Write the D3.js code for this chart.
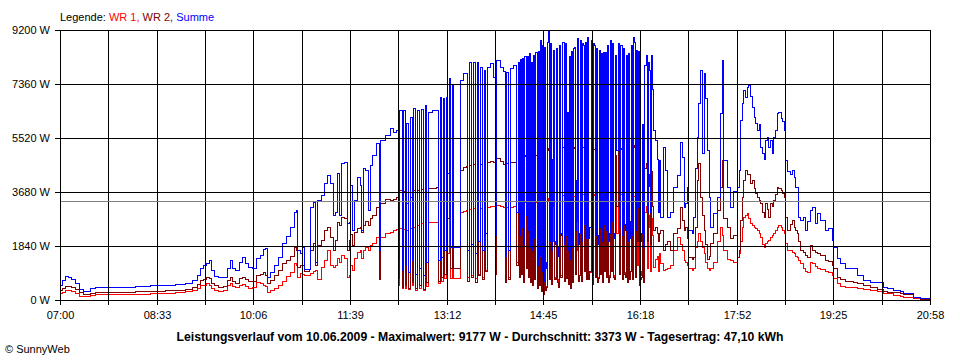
<!DOCTYPE html>
<html><head><meta charset="utf-8">
<script src="https://cdn.jsdelivr.net/npm/d3@7"></script>
<style>html,body{margin:0;padding:0;background:#fff}svg{display:block}</style>
</head><body>
<svg id="chart" width="960" height="360"></svg>
<script>
// ---------- DATA ----------
const startTime = "07:00";
const minutesAfterStart = [
  0,2,5,8,11,14,18,22,26,29,
  34,43,58,72,87,101,111,120,127,132,
  135,138,141,144,145,148,152,157,161,164,
  166,169,172,175,178,181,185,189,193,196,
  197,199,202,206,210,214,218,222,225,227,
  228,231,233,235,240,241,244,246,248,251,
  254,257,260,263,265,267,269,271,274,276,
  278,279,281,283,286,289,290,292,294,297,299,301,
  304,307,308,313,318,321,324,326,327,329,
  330,332,333,335,337,339,340,342,344,346,
  348,350,352,353,354,358,362,364,366,367,
  369,370,372,373,375,376,378,379,384,385,
  388,391,392,394,396,398,400,402,403,405,
  406,408,409,411,414,417,419,420,424,427,
  429,430,432,433,436,439,441,
  442,443,444,445,446,447,448,449,450,451,
  452,453,454,455,456,457,458,459,460,461,
  462,463,464,465,466,467,468,469,470,471,
  472,473,474,475,476,477,478,479,480,481,
  482,483,484,485,486,487,488,489,490,491,
  492,493,494,495,496,497,498,499,500,501,
  502,503,504,505,506,507,508,509,510,511,
  512,513,514,515,516,517,518,519,520,521,
  522,523,524,525,526,527,528,529,530,531,
  532,533,534,535,536,537,538,539,540,541,
  542,543,544,545,546,547,548,549,550,551,
  552,553,554,555,556,557,558,559,560,561,
  562,563,564,565,566,567,568,569,570,571,
  573,575,576,577,
  578,581,583,585,588,590,594,597,599,601,
  602,604,605,609,610,612,614,615,616,618,
  620,621,623,625,626,629,633,636,638,639,
  642,645,648,652,654,655,657,658,660,662,
  663,665,667,668,669,671,673,674,676,678,
  679,681,682,684,686,687,689,691,692,694,
  695,697,698,700,703,705,707,708,710,711,
  713,716,718,720,722,724,727,729,732,737,
  740,744,745,748,751,756,764,768,773,780,
  787,793,797,802,809,812,822,828,831,838
];
const summe = [
  510,680,820,780,720,580,370,310,310,410,
  440,440,440,480,510,510,550,580,680,850,
  1090,1190,1260,1360,1020,820,780,780,1090,1360,
  1090,1020,1290,1460,1260,1120,1090,1430,1530,1740,
  1770,780,950,1190,1460,1940,2180,2490,3000,3070,
  1700,1600,1800,1050,1050,3170,3340,1290,3410,3580,
  3990,4260,4000,2900,3000,4330,2900,4660,4700,2630,
  2660,3920,2390,3410,4190,3920,2390,4500,4430,3070,4600,4940,
  5350,1700,5450,5620,5860,5720,5790,1430,6470,1020,
  6470,1190,6030,950,6240,1360,6540,880,6470,1100,
  6500,850,6640,1290,6410,6470,6470,1360,6920,1460,
  6890,1700,6920,4330,7560,1800,7330,1800,1800,7500,
  7730,7730,1700,8110,1900,8110,1600,8110,2000,7950,
  1700,7840,2300,7950,8070,7600,2200,8180,7950,7800,
  1500,7770,1700,7900,8010,3000,8110,
  2200,8200,2500,8230,1900,8330,8300,2900,8330,2400,
  8400,1800,8110,1700,8350,2100,8460,1200,8500,1500,
  8860,1000,8700,650,8630,1100,1300,8800,9170,2000,
  8750,1700,4800,8520,2000,1900,8570,1800,1500,8700,
  2300,2200,8800,1900,8750,2200,6400,1700,8300,1400,
  8500,1800,8600,8630,2400,4100,8920,1900,2300,8860,
  2000,8750,8690,2600,8800,2100,8970,2100,2500,8860,
  1800,8750,8690,2200,8600,1900,2200,8520,2500,8400,
  2000,8460,2600,8460,2400,8700,2000,2300,8860,2700,
  8750,2300,2100,8350,5100,8750,2500,8700,8690,2200,
  8600,2600,2400,8350,2000,8400,2100,2700,8700,2200,
  8970,8800,2400,8520,3180,8500,1600,2000,2300,6000,
  1800,8000,8350,3000,8100,7840,3000,8350,7200,5790,
  5450,4800,3000,4770,
  2840,5220,4430,2840,3000,3860,4250,5390,4880,3180,
  3300,3860,2380,2300,2840,4500,5560,6710,7840,5000,
  7730,6900,5110,3520,2500,2950,3520,6360,8180,4770,
  3860,3180,3700,3860,4430,6130,6700,7150,6930,7270,
  7330,6950,6590,6240,6020,5800,6000,5220,5000,4800,
  5450,5560,5220,5450,5000,5560,5790,6360,6420,6200,
  6100,5800,4770,4400,4300,4430,4200,3860,3860,2840,
  2730,2840,2380,2700,3070,3180,2620,2950,2730,2380,
  2450,2040,1820,1420,1250,1080,1080,850,680,620,
  620,450,420,340,290,230,110,80,60,0
];
const wr2 = [
  340,410,480,480,440,370,270,200,200,240,
  270,270,270,310,310,340,340,370,440,550,
  680,720,780,750,580,510,440,480,680,780,
  650,580,750,780,720,650,650,850,890,950,
  850,580,680,850,1020,1260,1360,1500,1800,1700,
  1120,1190,1190,1000,1050,1700,1940,1190,1870,2040,
  2390,2490,2150,1700,2040,2660,2560,2830,2800,1700,
  2040,2250,1870,2320,2460,2490,2320,2560,2700,2560,2800,2900,
  3170,700,3300,3440,3410,3440,3510,750,3750,450,
  3700,500,3300,420,3510,600,3750,400,3750,500,
  3780,380,3820,600,3800,3830,3850,650,4020,780,
  4090,900,4190,2800,4430,1090,4430,1090,1090,4430,
  4540,4560,650,4600,800,4630,600,4650,850,4650,
  700,4650,1000,4700,4750,4700,900,4840,4750,4650,
  600,4680,700,4700,4700,1200,4700,
  800,4800,900,4850,600,4940,4900,1100,4940,800,
  4900,600,4830,500,4880,700,4950,400,4950,500,
  5000,300,5000,200,5050,350,450,5100,5170,700,
  5000,550,3200,5000,700,700,5100,600,450,5150,
  800,800,5220,650,5200,750,4300,550,5100,400,
  5150,600,5180,5200,900,2700,5220,650,850,5220,
  650,5200,5200,1000,5170,700,5200,700,1000,5170,
  550,5160,5150,800,5110,600,750,4880,900,4950,
  600,5050,1000,5100,800,5170,600,800,5170,1000,
  5150,800,700,4940,3200,5100,900,5150,5170,700,
  5150,900,800,5000,600,5000,700,1000,5200,700,
  5280,5200,800,5100,2000,4880,500,700,800,3700,
  600,4500,4660,2000,4300,3900,1900,4400,3200,2400,
  2500,2300,2000,2300,
  2390,1700,1900,2000,1700,2270,2450,3180,2730,2380,
  2500,2100,1480,1400,1480,2500,4090,4660,3520,2900,
  2400,1900,1400,1500,1940,2300,3070,3860,4770,2800,
  2500,2100,2200,1480,1700,2730,3500,4090,4430,4300,
  4300,3980,4100,3800,3640,3500,3400,3290,3000,2840,
  3300,3100,2840,3290,3200,3400,3600,3860,3800,3750,
  3640,3500,2840,2390,2600,2730,2500,2400,2270,2000,
  1700,1650,1550,1480,1870,1700,1650,1600,1530,1360,
  1330,1200,1080,800,700,660,630,570,510,450,
  360,320,280,260,230,200,110,50,30,0
];
const wr1 = [
  240,270,340,340,310,240,140,140,140,170,
  200,200,200,200,240,240,270,310,340,410,
  510,510,580,510,410,340,310,340,510,580,
  480,440,510,550,480,410,440,610,580,510,
  480,270,340,410,510,650,820,950,1260,1190,
  780,920,880,850,850,920,990,1020,700,1120,
  1360,1700,1190,1120,1190,1430,1290,1530,1430,780,
  850,1190,1020,1430,1640,1700,1430,1700,1800,1700,1870,1940,
  2150,750,2150,2280,2330,2390,2420,510,2450,400,
  2420,420,2390,370,2450,510,2490,340,2560,400,
  2620,330,2640,480,2660,2660,2660,580,2790,650,
  2800,750,2830,1600,2960,750,2960,750,750,3000,
  3030,3070,780,3100,850,3130,750,3130,900,3150,
  780,3150,1020,3170,3200,3200,950,3240,3200,3170,
  750,3170,780,3170,3200,1300,3240,
  850,3300,1000,3330,700,3350,3340,1100,3350,1000,
  3330,700,3300,680,3290,800,3330,480,3330,600,
  3350,400,3350,300,3400,400,480,3420,3470,750,
  3450,650,2000,3450,800,700,3500,700,550,3550,
  850,850,3580,700,3550,800,2900,750,3520,550,
  3520,650,3540,3550,900,1700,3600,700,850,3600,
  680,3600,3600,1000,3600,750,3620,750,950,3600,
  700,3600,3590,800,3580,700,800,3570,950,3580,
  750,3580,1000,3580,850,3590,700,850,3600,1000,
  3600,850,800,3610,2300,3610,900,3600,3600,800,
  3600,950,850,3590,700,3580,800,1000,3560,800,
  3550,3540,900,3500,1200,3500,650,850,1000,2300,
  700,3000,3200,1100,2900,2500,1000,2800,2200,1140,
  1400,1500,1000,1590,
  1250,1020,1050,1100,1200,1700,2160,1900,1700,1360,
  1300,1200,1100,1020,1100,1820,2000,2270,2000,1800,
  1600,1300,1100,1020,1100,1300,2000,2500,2200,1700,
  1400,1360,1300,1480,1600,2000,2500,2840,2900,2950,
  2800,2610,2550,2500,2450,2390,2300,2160,1900,1820,
  1950,2000,2050,2160,2200,2300,2400,2500,2550,2500,
  2400,2300,1930,1700,1700,1650,1590,1500,1450,1350,
  1250,1100,1000,960,1300,1250,1150,1100,1050,1000,
  960,850,740,570,480,450,430,400,370,340,
  300,250,230,170,130,110,60,30,20,0
];
const yTickValues = [0, 1840, 3680, 5520, 7360, 9200];
const xTickLabels = ["07:00","08:33","10:06","11:39","13:12","14:45","16:18","17:52","19:25","20:58"];
const totalMinutes = 838;          // 07:00 .. 20:58
const averageWatt = 3373;
const legendLabel = "Legende: ";
const seriesNames = ["WR 1", "WR 2", "Summe"];
const seriesColors = ["#ff0000", "#800000", "#0000ff"];
const titleText = "Leistungsverlauf vom 10.06.2009 - Maximalwert: 9177 W - Durchschnitt: 3373 W - Tagesertrag: 47,10 kWh";
const creditText = "\u00A9 SunnyWeb";

// ---------- CHART ----------
const FONT = "'Liberation Sans', Arial, sans-serif";
const svg = d3.select("#chart");
const x = d3.scaleLinear().domain([0, totalMinutes]).range([60, 930]);
const y = d3.scaleLinear().domain([0, 9200]).range([300, 30]);
const xr = x.copy().interpolate(d3.interpolateRound);
const yr = y.copy().interpolate(d3.interpolateRound);

const gridMinutes = d3.range(19).map(i => i * totalMinutes / 18);

// data lines: WR 1, then WR 2, then Summe on top
const series = [
  {name: seriesNames[0], values: wr1, color: seriesColors[0]},
  {name: seriesNames[1], values: wr2, color: seriesColors[1]},
  {name: seriesNames[2], values: summe, color: seriesColors[2]}
];
const line = d3.line()
  .x(d => x(d.m) + 0.5)
  .y(d => y(d.v) + 0.5)
  .curve(d3.curveStepAfter);
const gLines = svg.append("g");
series.forEach(s => {
  const pts = minutesAfterStart.map((m, i) => ({m, v: s.values[i]}));
  gLines.append("path")
    .datum(pts)
    .attr("d", line)
    .attr("fill", "none")
    .attr("stroke", s.color)
    .attr("stroke-width", 1)
    .attr("shape-rendering", "crispEdges");
});

// grid
const gGrid = svg.append("g").attr("shape-rendering", "crispEdges").attr("stroke", "#000").attr("stroke-width", 1);
gGrid.selectAll("line.v").data(gridMinutes).join("line")
  .attr("x1", d => xr(d) + 0.5).attr("x2", d => xr(d) + 0.5)
  .attr("y1", 30).attr("y2", 300);
gGrid.selectAll("line.h").data(yTickValues).join("line").attr("class", "h")
  .attr("x1", 60).attr("x2", 931)
  .attr("y1", d => yr(d) + 0.5).attr("y2", d => yr(d) + 0.5);

// average line
svg.append("line")
  .attr("x1", 61).attr("x2", 930)
  .attr("y1", yr(averageWatt) + 0.5).attr("y2", yr(averageWatt) + 0.5)
  .attr("stroke", "#808080").attr("stroke-width", 1)
  .attr("shape-rendering", "crispEdges");

// axes
const xAxis = d3.axisBottom(xr)
  .tickValues(gridMinutes)
  .tickFormat((d, i) => i % 2 === 0 ? xTickLabels[i / 2] : "")
  .tickSize(5).tickSizeOuter(0).tickPadding(6);
const gx = svg.append("g").attr("transform", "translate(0,300)").call(xAxis);
gx.select(".domain").remove();
gx.selectAll("line").attr("stroke", "#000").attr("shape-rendering", "crispEdges");
gx.selectAll("text").attr("font-family", FONT).attr("font-size", 11).attr("fill", "#000");

const yAxis = d3.axisLeft(yr)
  .tickValues(yTickValues)
  .tickFormat(d => d + " W")
  .tickSize(5).tickSizeOuter(0).tickPadding(5);
const gy = svg.append("g").attr("transform", "translate(60,0)").call(yAxis);
gy.select(".domain").remove();
gy.selectAll("line").attr("stroke", "#000").attr("shape-rendering", "crispEdges");
gy.selectAll("text").attr("font-family", FONT).attr("font-size", 11).attr("fill", "#000");

// legend
const leg = svg.append("text").attr("x", 60).attr("y", 21)
  .attr("font-family", FONT).attr("font-size", 11);
leg.append("tspan").attr("fill", "#000").text(legendLabel);
seriesNames.forEach((n, i) => {
  leg.append("tspan").attr("fill", seriesColors[i]).text(n + (i < seriesNames.length - 1 ? ", " : ""));
});

// title
svg.append("text").attr("x", 480).attr("y", 341)
  .attr("text-anchor", "middle")
  .attr("font-family", FONT).attr("font-size", 12).attr("font-weight", "bold")
  .attr("textLength", 607).attr("lengthAdjust", "spacingAndGlyphs")
  .text(titleText);

// credit
svg.append("text").attr("x", 5).attr("y", 353)
  .attr("font-family", FONT).attr("font-size", 11)
  .text(creditText);
</script>
</body></html>
